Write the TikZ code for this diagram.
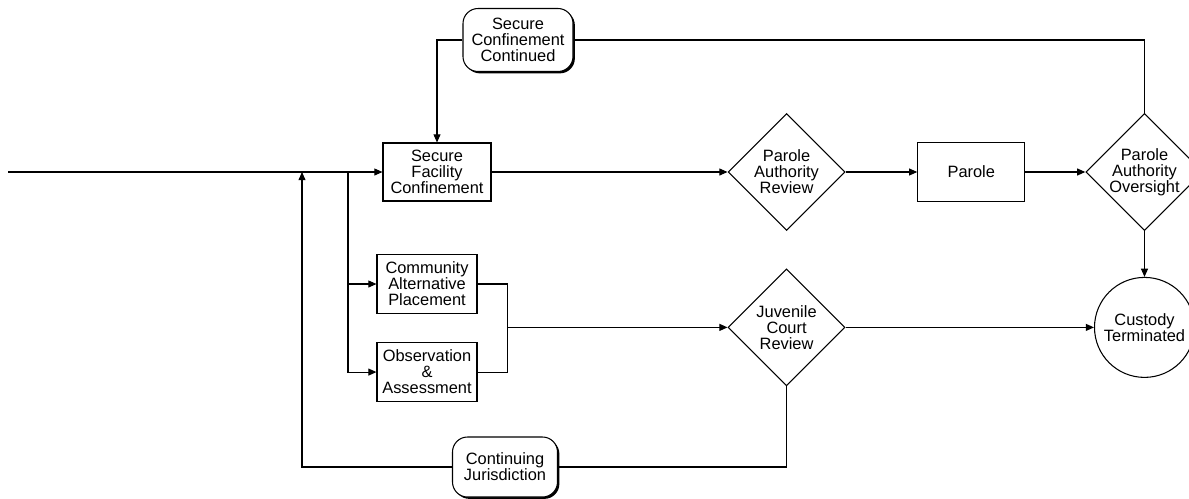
\documentclass[tikz,border=0pt]{standalone}
\usepackage{fontspec}
\setmainfont{Liberation Sans}
\usepackage{tikz}
\usetikzlibrary{shapes.geometric, positioning, arrows.meta, calc, shadows}
\tikzset{
  process/.style={rectangle, minimum width=3cm, minimum height=1.77cm, align=center, draw=black, fill=white, line width=0.9pt, inner sep=1pt},
  holdbox/.style={rectangle, rounded corners=0.45cm, minimum width=3.2cm, minimum height=1.85cm, align=center, draw=black, fill=white, line width=0.9pt, inner sep=1pt, drop shadow={shadow xshift=1.6pt, shadow yshift=-1.6pt, fill=black, opacity=1}},
  decision/.style={diamond, aspect=1, minimum width=3.51cm, minimum height=3.51cm, inner sep=0pt, align=center, draw=black, fill=white, line width=0.9pt},
  terminal/.style={circle, minimum size=3cm, inner sep=0pt, align=center, draw=black, fill=white, line width=0.9pt},
  line/.style={line width=0.9pt},
  arrow/.style={line width=0.9pt, -{Triangle[length=7pt, width=6pt]}}
}

\begin{document}
\begin{tikzpicture}[every node/.style={font=\fontsize{14}{13.6}\selectfont}]
    \useasboundingbox (0,0) rectangle (35.67,-14.94);

    \coordinate (start) at (0.24,-5.16);
    \node (sfc) [process, minimum width=3.24cm, minimum height=1.74cm] at (13.11,-5.16)
    {Secure\\Facility\\Confinement};

    \node (scc) [holdbox, minimum width=3.3cm, minimum height=1.89cm] at (15.54,-1.2)
    {Secure\\Confinement\\Continued};

    \node (cap) [process] at (12.81,-8.52) {Community\\Alternative\\Placement};
    \node (oa) [process, below=0.84cm of cap] {Observation\\\&\\Assessment};

    \node (par) [decision, right=7.08cm of sfc] {Parole\\Authority\\Review};
    \node (parole) [process, minimum width=3.21cm, right=2.15cm of par] {Parole};
    \node (pao) [decision, right=1.8cm of parole] {Parole\\Authority\\Oversight};
    \node (ct) [terminal, below=1.37cm of pao] {Custody\\Terminated};
    \node (jcr) [decision] at (par |- ct) {Juvenile\\Court\\Review};

    \node (cj) [holdbox, minimum width=3.15cm, minimum height=1.8cm] at (15.15,-14.01)
    {Continuing\\Jurisdiction};

    % Entrada y ramas
    \coordinate (join) at (9.06,-5.16);
    \coordinate (split) at (10.44,-5.16);
    \coordinate (merge) at ([xshift=0.9cm]cap.east |- jcr);

    \draw [arrow] (start) -- (sfc);
    \draw [arrow] (split) |- (cap.west);
    \draw [arrow] (split) |- (oa.west);
    \draw [line] (cap.east) -| (merge);
    \draw [line] (oa.east) -| (merge);
    \draw [arrow] (merge) -- (jcr.west);

    % Camino de libertad condicional
    \draw [arrow] (sfc) -- (par);
    \draw [arrow] (par) -- (parole);
    \draw [arrow] (parole) -- (pao);
    \draw [arrow] (pao) -- (ct);
    \draw [arrow] (jcr) -- (ct);

    % Retornos
    \draw [line] (pao.north) |- (scc.east);
    \draw [arrow] (scc.west) -| (sfc.north);
    \draw [line] (jcr.south) |- (cj.east);
    \draw [arrow] (cj.west) -| (join);

\end{tikzpicture}
\end{document}
